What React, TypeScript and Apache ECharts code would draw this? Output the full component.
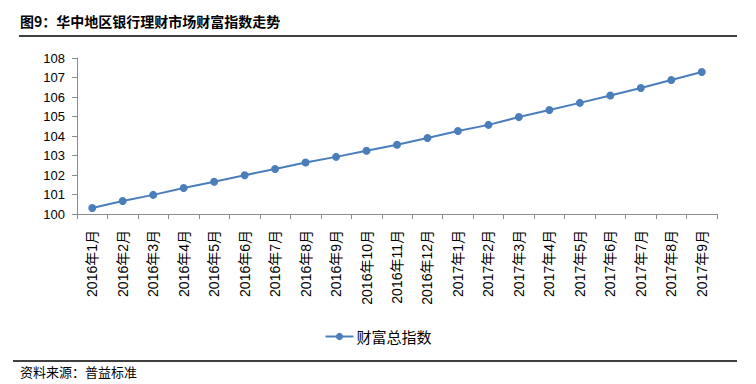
import React, { useEffect, useRef } from "react";
import * as echarts from "echarts";

const categories = [
  "2016年1月", "2016年2月", "2016年3月", "2016年4月", "2016年5月", "2016年6月",
  "2016年7月", "2016年8月", "2016年9月", "2016年10月", "2016年11月", "2016年12月",
  "2017年1月", "2017年2月", "2017年3月", "2017年4月", "2017年5月", "2017年6月",
  "2017年7月", "2017年8月", "2017年9月",
];
const wealthIndex = [
  100.31, 100.67, 100.98, 101.33, 101.65, 101.99, 102.31, 102.64, 102.93, 103.24,
  103.55, 103.9, 104.26, 104.57, 104.97, 105.33, 105.7, 106.08, 106.46, 106.87, 107.28,
];
const seriesName = "财富总指数";
const titleText = "图9：华中地区银行理财市场财富指数走势";
const sourceText = "资料来源：普益标准";

export default function App() {
  const ref = useRef<HTMLDivElement>(null);
  useEffect(() => {
    if (!ref.current) return;
    const chart = echarts.init(ref.current, null, { renderer: "svg" });
    const font = "'Noto Sans CJK SC', sans-serif";
    chart.setOption({
      animation: false,
      backgroundColor: "#ffffff",
      textStyle: { fontFamily: font },
      graphic: [
        {
          type: "text",
          left: 20,
          top: 14,
          style: { text: titleText, fontSize: 14, fontFamily: font, fill: "#000", fontWeight: "bold" },
        },
        {
          type: "line",
          shape: { x1: 19, y1: 36, x2: 737, y2: 36 },
          style: { stroke: "#000", lineWidth: 1.5 },
        },
        {
          type: "line",
          shape: { x1: 13, y1: 361, x2: 737, y2: 361 },
          style: { stroke: "#000", lineWidth: 1.5 },
        },
        {
          type: "text",
          left: 20,
          top: 365,
          style: { text: sourceText, fontSize: 13, fontFamily: font, fill: "#000" },
        },
      ],
      legend: {
        data: [seriesName],
        left: "center",
        top: 324,
        itemWidth: 28,
        itemHeight: 9,
        itemGap: 4,
        textStyle: { fontSize: 15, color: "#000", fontFamily: font, padding: [0, 0, 0, -2] },
      },
      grid: { left: 77, right: 39, top: 58, bottom: 170, containLabel: false },
      xAxis: {
        type: "category",
        data: categories,
        boundaryGap: true,
        axisLine: { lineStyle: { color: "#8c8c8c" } },
        axisTick: { show: true, length: 5, alignWithLabel: false, lineStyle: { color: "#8c8c8c" } },
        axisLabel: {
          rotate: 90,
          interval: 0,
          fontSize: 14,
          color: "#000",
          fontFamily: "'Liberation Sans', 'Noto Sans CJK SC', sans-serif",
          margin: 16,
        },
      },
      yAxis: {
        type: "value",
        min: 100,
        max: 108,
        interval: 1,
        axisLine: { show: true, lineStyle: { color: "#8c8c8c" } },
        axisTick: { show: true, length: 5, lineStyle: { color: "#8c8c8c" } },
        splitLine: { show: false },
        axisLabel: {
          fontSize: 13,
          color: "#000",
          fontFamily: "'Liberation Sans', sans-serif",
          margin: 12,
        },
      },
      series: [
        {
          name: seriesName,
          type: "line",
          data: wealthIndex,
          symbol: "circle",
          symbolSize: 8,
          itemStyle: { color: "#4a7ebb" },
          lineStyle: { color: "#4a7ebb", width: 2 },
        },
      ],
    });
    return () => chart.dispose();
  }, []);
  return <div ref={ref} style={{ width: 756, height: 384, position: "absolute", left: 0, top: 0 }} />;
}
